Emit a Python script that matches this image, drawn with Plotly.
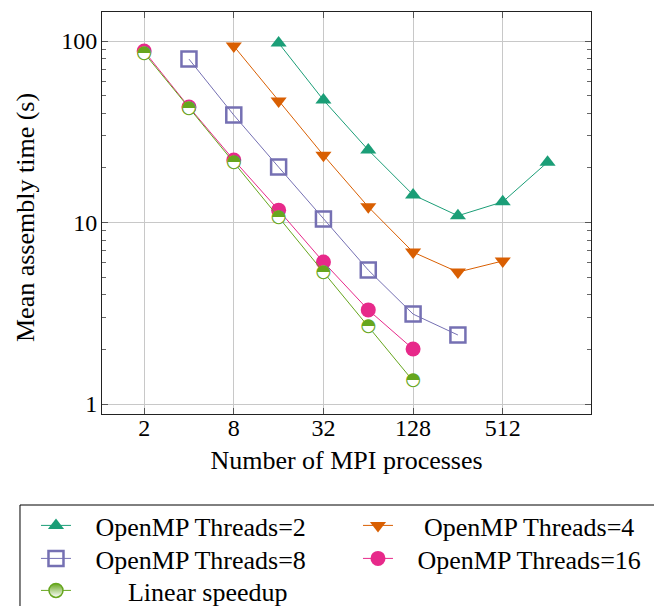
import plotly.graph_objects as go

# ---- data ----
procs_t2 = [16, 32, 64, 128, 256, 512, 1024]
time_t2 = [97.5, 47.3, 25.1, 14.2, 10.9, 13.0, 21.5]

procs_t4 = [8, 16, 32, 64, 128, 256, 512]
time_t4 = [93.8, 46.7, 23.5, 12.2, 6.87, 5.33, 6.14]

procs_t8 = [4, 8, 16, 32, 64, 128, 256]
time_t8 = [79.5, 39.1, 20.2, 10.45, 5.47, 3.13, 2.40]

procs_t16 = [2, 4, 8, 16, 32, 64, 128]
time_t16 = [88.0, 43.3, 22.1, 11.7, 6.06, 3.30, 2.01]

procs_lin = [2, 4, 8, 16, 32, 64, 128]
time_lin = [85.9, 42.7, 21.5, 10.7, 5.33, 2.66, 1.34]

x_ticks = [2, 8, 32, 128, 512]
x_tick_labels = ["2", "8", "32", "128", "512"]
y_ticks = [1, 10, 100]
y_tick_labels = ["1", "10", "100"]
y_minor = [2, 3, 4, 5, 6, 7, 8, 9, 20, 30, 40, 50, 60, 70, 80, 90]

names = ["OpenMP Threads=2", "OpenMP Threads=4", "OpenMP Threads=8",
         "OpenMP Threads=16", "Linear speedup"]
x_title = "Number of MPI processes"
y_title = "Mean assembly time (s)"

C2, C4, C8, C16, CLIN = "#1b9e77", "#d95f02", "#7570b3", "#e7298a", "#66a61e"
FONT = "Liberation Serif, DejaVu Serif, Noto Serif, Times New Roman, serif"
NB = "\u00a0"

fig = go.Figure()

fig.add_trace(go.Scatter(
    x=procs_t2, y=time_t2, mode="lines+markers", name=NB * 3 + names[0],
    line=dict(color=C2, width=1), legend="legend",
    marker=dict(symbol="triangle-up", size=14, color=C2)))

fig.add_trace(go.Scatter(
    x=procs_t4, y=time_t4, mode="lines+markers", name=NB * 4 + names[1],
    line=dict(color=C4, width=1), legend="legend2",
    marker=dict(symbol="triangle-down", size=14, color=C4)))

fig.add_trace(go.Scatter(
    x=procs_t8, y=time_t8, mode="lines+markers", name=NB * 3 + names[2],
    line=dict(color=C8, width=1), legend="legend3",
    marker=dict(symbol="square-open", size=15, color=C8, line=dict(width=2.5, color=C8))))

fig.add_trace(go.Scatter(
    x=procs_t16, y=time_t16, mode="lines+markers", name=NB * 3 + names[3],
    line=dict(color=C16, width=1), legend="legend4",
    marker=dict(symbol="circle", size=15, color=C16)))

# legend-only entry for linear speedup
fig.add_trace(go.Scatter(
    x=[None], y=[None], mode="lines+markers", name=NB * 8 + names[4],
    line=dict(color=CLIN, width=1), legend="legend5",
    marker=dict(symbol="circle", size=14, color=CLIN,
                gradient=dict(type="vertical", color="white"),
                line=dict(width=1.5, color=CLIN))))

# linear speedup: line + white disc underlay
fig.add_trace(go.Scatter(
    x=procs_lin, y=time_lin, mode="lines+markers", showlegend=False,
    line=dict(color=CLIN, width=1),
    marker=dict(symbol="circle", size=13, color="white", line=dict(width=0))))

# half-filled circle glyphs
fig.add_trace(go.Scatter(
    x=procs_lin, y=time_lin, mode="text", showlegend=False,
    text=["\u25d3"] * len(procs_lin), textposition="middle center",
    textfont=dict(family="DejaVu Sans", size=18, color=CLIN),
    hoverinfo="skip"))

axis_common = dict(
    showline=True, linecolor="#222", linewidth=1, mirror="allticks",
    ticks="inside", ticklen=6, tickcolor="#555",
    showgrid=True, gridcolor="#c8c8c8", gridwidth=1,
    zeroline=False, tickfont=dict(family=FONT, size=24, color="black"),
)

fig.update_xaxes(
    type="log", range=[0.018, 3.302], tickmode="array",
    tickvals=x_ticks, ticktext=x_tick_labels,
    title=dict(text=x_title, font=dict(family=FONT, size=26, color="black"), standoff=11),
    ticklabelstandoff=-8,
    **axis_common)

fig.update_yaxes(
    type="log", range=[-0.055, 2.16], tickmode="array",
    tickvals=y_ticks, ticktext=y_tick_labels,
    minor=dict(ticks="inside", ticklen=4, tickcolor="#666", tickmode="array",
               tickvals=y_minor, showgrid=False),
    ticklabelstandoff=-1,
    **axis_common)

legend_common = dict(
    orientation="v", xanchor="left", yanchor="top",
    xref="paper", yref="paper", borderwidth=0, bgcolor="rgba(0,0,0,0)",
    font=dict(family=FONT, size=26, color="black"), traceorder="normal",
)

col1, col2 = -0.135, 0.5235
row1, row2, row3 = -0.2189, -0.301, -0.3806

fig.update_layout(
    width=654, height=598,
    margin=dict(l=94, r=71, t=4, b=192, autoexpand=False),
    plot_bgcolor="white", paper_bgcolor="white",
    font=dict(family=FONT, size=26, color="black"),
    legend=dict(x=col1, y=row1, **legend_common),
    legend2=dict(x=col2, y=row1, **legend_common),
    legend3=dict(x=col1, y=row2, **legend_common),
    legend4=dict(x=col2, y=row2, **legend_common),
    legend5=dict(x=col1, y=row3, **legend_common),
    showlegend=True,
    annotations=[dict(text=y_title, xref="paper", yref="paper",
                      x=-0.1575, y=0.49, xanchor="center", yanchor="middle",
                      textangle=-90, showarrow=False,
                      font=dict(family=FONT, size=26, color="black"))],
    shapes=[dict(type="rect", xref="paper", yref="paper",
                 x0=-0.1677, x1=1.3, y0=-0.2264, y1=-0.6,
                 line=dict(color="black", width=1), fillcolor="rgba(0,0,0,0)",
                 layer="below")],
)

fig.write_html("out.html")
